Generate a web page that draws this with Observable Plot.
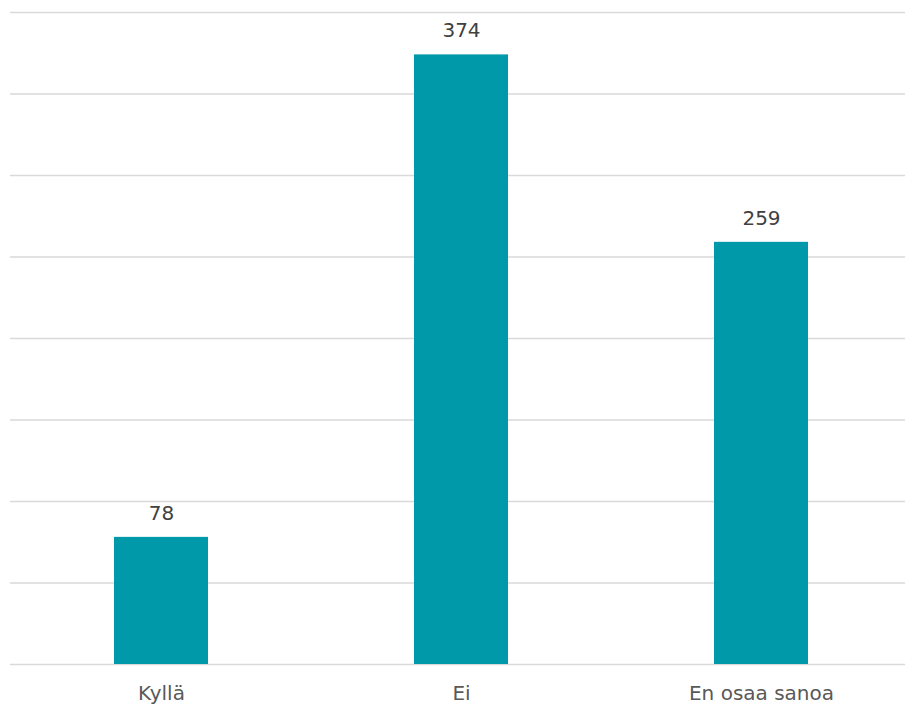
<!DOCTYPE html>
<html>
<head>
<meta charset="utf-8">
<script src="https://cdn.jsdelivr.net/npm/d3@7"></script>
<script src="https://cdn.jsdelivr.net/npm/@observablehq/plot@0.6"></script>
<style>
  html, body { margin: 0; padding: 0; background: #fff; }
  #chart svg { display: block; }
</style>
</head>
<body>
<div id="chart"></div>
<script>
const categories = ["Kyllä", "Ei", "En osaa sanoa"];
const values = [78, 374, 259];
const gridTicks = [0, 50, 100, 150, 200, 250, 300, 350, 400];

const data = categories.map((c, i) => ({category: c, value: values[i]}));

const chart = Plot.plot({
  width: 905,
  height: 707,
  marginTop: 12,
  marginBottom: 43,
  marginLeft: 10,
  marginRight: 0,
  style: {fontFamily: "DejaVu Sans, sans-serif", fontSize: "20px", background: "#fff"},
  x: {domain: categories, range: [113, 808], paddingInner: 0.687, paddingOuter: 0, label: null},
  y: {domain: [0, 400], axis: null},
  marks: [
    Plot.ruleY(gridTicks, {stroke: "#d9d9d9", strokeWidth: 1.5}),
    Plot.barY(data, {x: "category", y: "value", fill: "#0099aa"}),
    Plot.text(data, {x: "category", y: "value", text: d => String(d.value), dy: -24, fill: "#404040", fontSize: 20}),
    Plot.axisX({tickSize: 0, tickPadding: 21, fontSize: 20, color: "#595959", label: null})
  ]
});
document.getElementById("chart").appendChild(chart);
</script>
</body>
</html>
